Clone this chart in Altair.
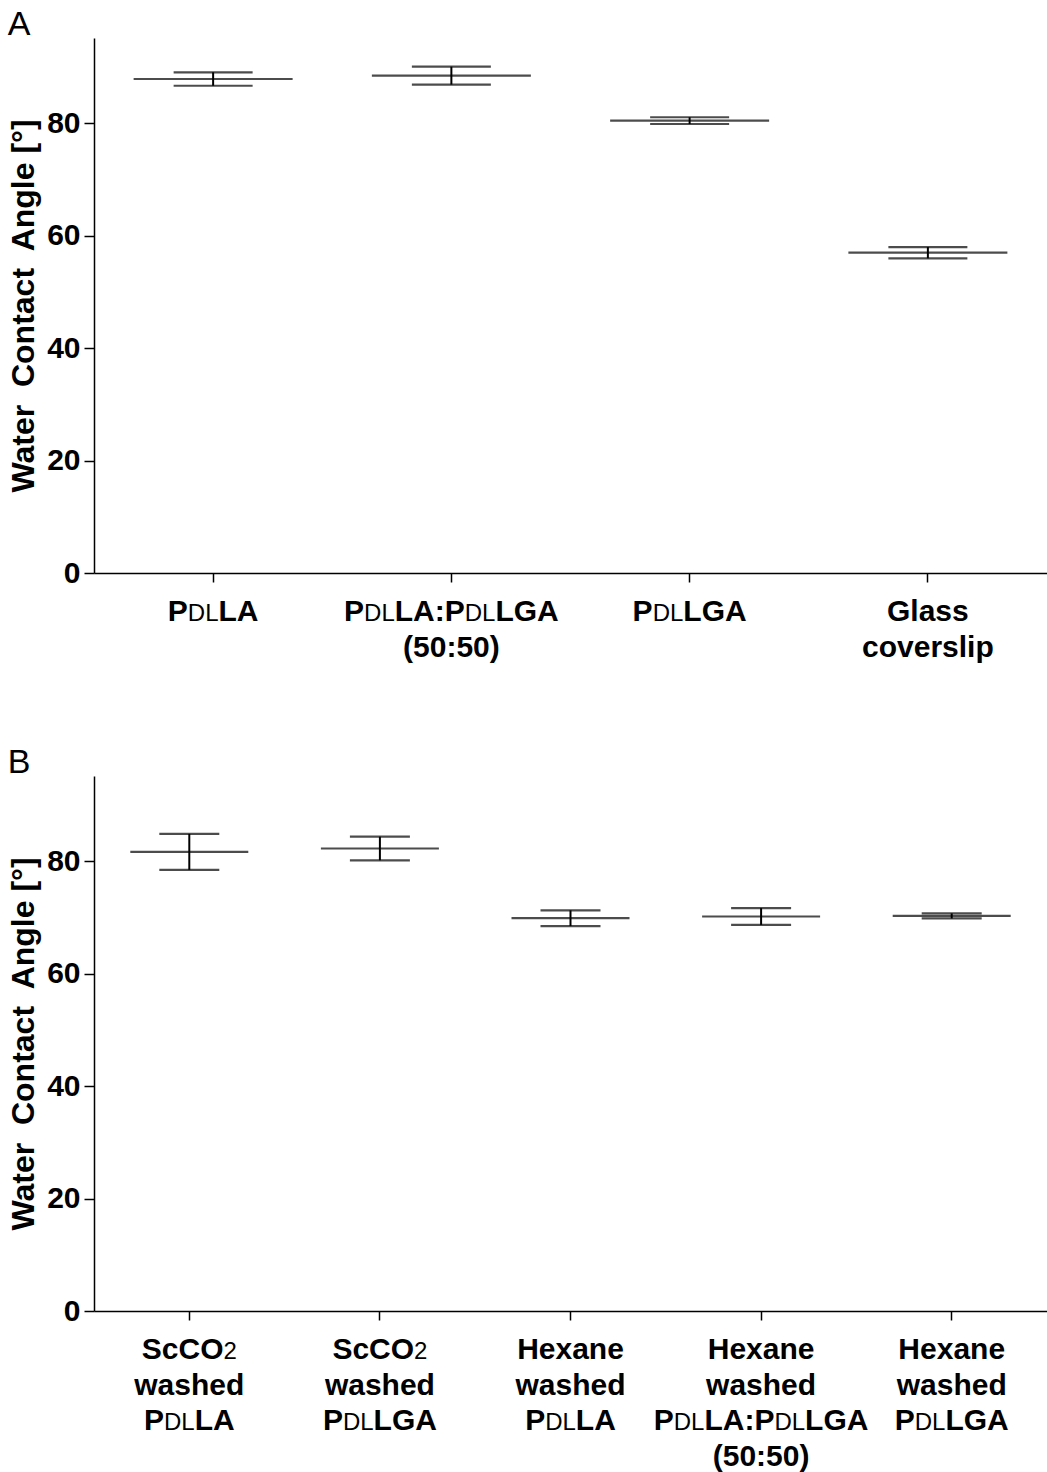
import re
import altair as alt
import pandas as pd

FONT = "Liberation Sans"

# Panel A: untreated films and glass control
A_LABELS = [
    "P_{DL}LA",
    "P_{DL}LA:P_{DL}LGA\n(50:50)",
    "P_{DL}LGA",
    "Glass\ncoverslip",
]
A_MEAN = [87.9, 88.5, 80.5, 57.0]
A_SD = [1.2, 1.6, 0.6, 1.0]

# Panel B: washed films
B_LABELS = [
    "ScCO_{2}\nwashed\nP_{DL}LA",
    "ScCO_{2}\nwashed\nP_{DL}LGA",
    "Hexane\nwashed\nP_{DL}LA",
    "Hexane\nwashed\nP_{DL}LA:P_{DL}LGA\n(50:50)",
    "Hexane\nwashed\nP_{DL}LGA",
]
B_MEAN = [81.7, 82.3, 69.9, 70.2, 70.3]
B_SD = [3.2, 2.1, 1.4, 1.5, 0.45]

Y_TICKS = [0, 20, 40, 60, 80]
Y_TITLE = "Water\u00a0 Contact\u00a0 Angle [°]"

LABEL_SIZE = 30
SMALL_SIZE = 24
LINE_GAP = 35.7
FIRST_BASELINE = 48

# Advance widths (1/1000 em) for the metric-compatible Liberation Sans faces
BOLD_W = {' ': 278, '(': 333, ')': 333, ':': 333,
          'A': 722, 'C': 722, 'D': 722, 'G': 778, 'H': 722, 'L': 611,
          'O': 778, 'P': 667, 'S': 667,
          'a': 556, 'c': 556, 'd': 611, 'e': 556, 'h': 611, 'i': 278,
          'l': 278, 'n': 611, 'o': 611, 'p': 611, 'r': 389, 's': 556,
          'v': 556, 'w': 778, 'x': 556}
for d in "0123456789":
    BOLD_W[d] = 556
REG_W = {'D': 722, 'L': 556, '2': 556}


def split_segments(line):
    """Split 'P_{DL}LA' into [('P', False), ('DL', True), ('LA', False)]."""
    out = []
    for part in re.split(r"(_\{[^}]*\})", line):
        if not part:
            continue
        if part.startswith("_{"):
            out.append((part[2:-1], True))
        else:
            out.append((part, False))
    return out


def seg_width(text, small):
    if small:
        return sum(REG_W.get(c, 556) for c in text) * SMALL_SIZE / 1000
    return sum(BOLD_W.get(c, 600) for c in text) * LABEL_SIZE / 1000


def panel(labels, means, sds, mean_len, cap_len, letter):
    df = pd.DataFrame({
        "cat": labels,
        "mean": means,
        "lo": [m - s for m, s in zip(means, sds)],
        "hi": [m + s for m, s in zip(means, sds)],
        "zero": [0] * len(labels),
    })
    x = alt.X("cat:N", sort=labels, scale=alt.Scale(paddingInner=0, paddingOuter=0),
              axis=alt.Axis(labels=False, title=None, ticks=True, tickSize=9,
                            tickColor="black", tickWidth=1.5, domainColor="black",
                            domainWidth=1.5, grid=False))
    yscale = alt.Scale(domain=[0, 95.2], nice=False, zero=True)
    yaxis = alt.Axis(values=Y_TICKS, title=Y_TITLE, titleFont=FONT, titleFontSize=32,
                     titleFontWeight="bold", titleColor="black", titlePadding=6,
                     labelFont=FONT, labelFontSize=30, labelFontWeight="bold",
                     labelColor="black", labelPadding=4, tickSize=10, tickWidth=1.5,
                     tickColor="black", domainColor="black", domainWidth=1.5, grid=False)

    def y(field):
        return alt.Y(f"{field}:Q", scale=yscale, axis=yaxis)

    base = alt.Chart(df)
    layers = [
        base.mark_tick(size=mean_len, thickness=2.2, color="black").encode(x=x, y=y("mean")),
        base.mark_rule(strokeWidth=2, color="black").encode(x=x, y=y("lo"), y2="hi:Q"),
        base.mark_tick(size=cap_len, thickness=2.2, color="black").encode(x=x, y=y("lo")),
        base.mark_tick(size=cap_len, thickness=2.2, color="black").encode(x=x, y=y("hi")),
    ]

    # Category labels: bold text with smaller regular-weight subscripts
    for cat in labels:
        for li, line in enumerate(cat.split("\n")):
            segs = split_segments(line)
            total = sum(seg_width(t, s) for t, s in segs)
            cursor = -total / 2
            for text, small in segs:
                seg_df = pd.DataFrame({"cat": [cat], "txt": [text], "zero": [0]})
                layers.append(
                    alt.Chart(seg_df).mark_text(
                        align="left", baseline="alphabetic", font=FONT,
                        fontSize=SMALL_SIZE if small else LABEL_SIZE,
                        fontWeight="normal" if small else "bold",
                        color="black", dx=cursor, dy=FIRST_BASELINE + li * LINE_GAP,
                    ).encode(x=x, y=y("zero"), text="txt:N")
                )
                cursor += seg_width(text, small)

    return alt.layer(*layers).properties(
        width=953, height=535,
        title=alt.TitleParams(letter, anchor="start", frame="bounds", font=FONT,
                              fontSize=34, fontWeight="normal", color="black", offset=-4),
    )


chart = alt.vconcat(
    panel(A_LABELS, A_MEAN, A_SD, 159, 79, "A"),
    panel(B_LABELS, B_MEAN, B_SD, 118, 60, "B"),
    spacing=83,
).properties(
    padding={"left": 7, "top": 8, "right": 0, "bottom": 0},
    background="white",
).configure_view(stroke=None)

chart.save("out.html", embed_options={"renderer": "svg", "actions": False})
